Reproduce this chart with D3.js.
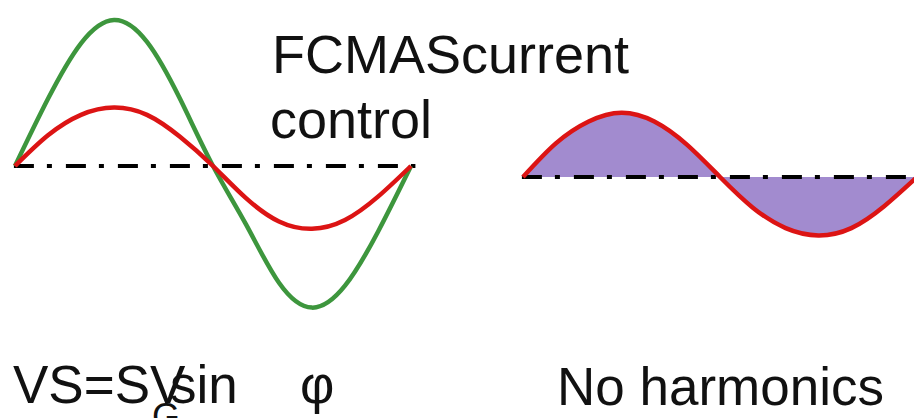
<!DOCTYPE html>
<html>
<head>
<meta charset="utf-8">
<script src="https://cdn.jsdelivr.net/npm/d3@7"></script>
<style>
  body { margin: 0; background: #fff; }
  svg { display: block; }
</style>
</head>
<body>
<div id="chart"></div>
<script>
// phase of each sample, in degrees
var phases = [0, 30, 60, 90, 120, 150, 180, 210, 240, 270, 300, 330, 360];

// left panel: voltage (green) and current (red)
var greenLeft = [0, 0.46, 0.84, 1.0, 0.85, 0.46, 0, -0.40, -0.80, -0.97, -0.82, -0.45, 0];
var redLeft   = [0, 0.21, 0.35, 0.40, 0.35, 0.20, 0, -0.22, -0.38, -0.43, -0.37, -0.21, 0];

// right panel: current with no harmonics
var redRight  = [0, 0.23, 0.38, 0.44, 0.38, 0.22, 0, -0.21, -0.35, -0.40, -0.35, -0.20, 0];

var labels = {
    title1: 'FCMAScurrent',
    title2: 'control',
    right: 'No harmonics'
};

var width = 914;
var height = 418;

var svg = d3.select('#chart')
    .append('svg')
    .attr('width', width)
    .attr('height', height)
    .style('font-family', '"Liberation Sans", Arial, sans-serif');

var xL = d3.scaleLinear().domain([0, 360]).range([15, 411]);
var yL = d3.scaleLinear().domain([-1, 1]).range([312, 20]);
var xR = d3.scaleLinear().domain([0, 360]).range([523, 917]);
var yR = d3.scaleLinear().domain([-1, 1]).range([323, 31]);

function zip(vals) {
    return phases.map(function(p, i) { return { p: p, v: vals[i] }; });
}

function lineFor(x, y) {
    return d3.line()
        .x(function(d) { return x(d.p); })
        .y(function(d) { return y(d.v); })
        .curve(d3.curveNatural);
}

var dashes = '20,13,5,14';
var zeroLine = [{ p: -1, v: 0 }, { p: 364, v: 0 }];

// ---- right panel ----
var areaR = d3.area()
    .x(function(d) { return xR(d.p); })
    .y0(yR(0))
    .y1(function(d) { return yR(d.v); })
    .curve(d3.curveNatural);

svg.append('path')
    .datum(zip(redRight))
    .attr('d', areaR)
    .attr('fill', '#a28bcf');

svg.append('path')
    .datum(zeroLine)
    .attr('d', lineFor(xR, yR))
    .attr('fill', 'none')
    .attr('stroke', '#000')
    .attr('stroke-width', 4)
    .attr('stroke-dasharray', dashes);

svg.append('path')
    .datum(zip(redRight))
    .attr('d', lineFor(xR, yR))
    .attr('fill', 'none')
    .attr('stroke', '#dc1414')
    .attr('stroke-width', 4.5);

// ---- left panel ----
svg.append('path')
    .datum(zeroLine)
    .attr('d', lineFor(xL, yL))
    .attr('fill', 'none')
    .attr('stroke', '#000')
    .attr('stroke-width', 4)
    .attr('stroke-dasharray', dashes);

svg.append('path')
    .datum(zip(greenLeft))
    .attr('d', lineFor(xL, yL))
    .attr('fill', 'none')
    .attr('stroke', '#3d963d')
    .attr('stroke-width', 4.5);

svg.append('path')
    .datum(zip(redLeft))
    .attr('d', lineFor(xL, yL))
    .attr('fill', 'none')
    .attr('stroke', '#dc1414')
    .attr('stroke-width', 4.5);

// ---- texts ----
var fs = 54;

svg.append('text')
    .attr('x', 272).attr('y', 73)
    .style('font-size', fs + 'px')
    .attr('fill', '#111')
    .text(labels.title1);

svg.append('text')
    .attr('x', 270).attr('y', 138)
    .style('font-size', fs + 'px')
    .attr('fill', '#111')
    .text(labels.title2);

svg.append('text')
    .attr('x', 557).attr('y', 405)
    .style('font-size', '53px')
    .attr('fill', '#111')
    .text(labels.right);

// the overlapping formula at the bottom left
var formula = svg.append('g')
    .attr('fill', '#111')
    .style('font-size', '53px');

formula.append('text').attr('x', 13).attr('y', 403).text('VS=SV');
formula.append('text').attr('x', 152).attr('y', 429).style('font-size', '36px').text('G');
formula.append('text').attr('x', 170).attr('y', 403).text('sin');
formula.append('text').attr('x', 300).attr('y', 403).text('φ');
</script>
</body>
</html>
